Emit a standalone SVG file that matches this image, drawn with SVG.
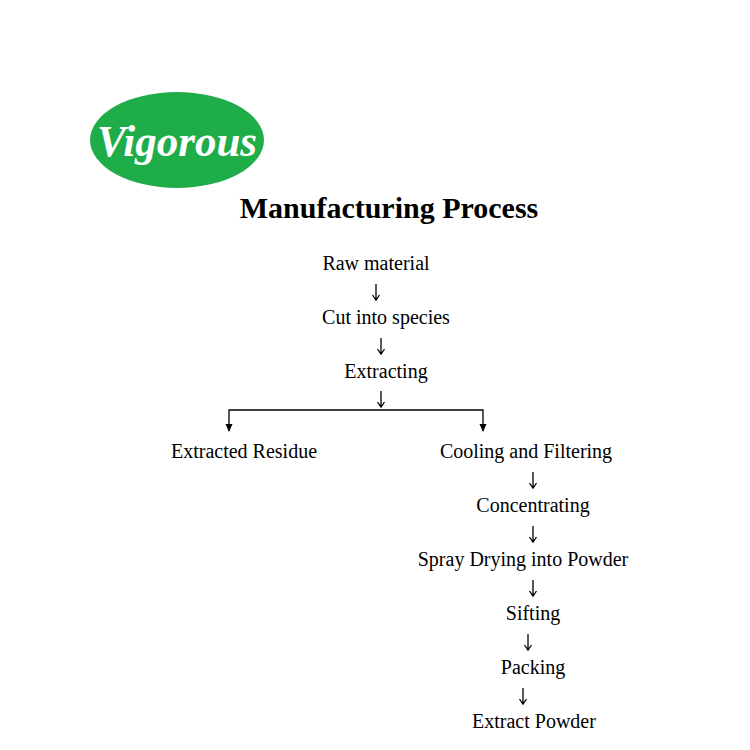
<svg xmlns="http://www.w3.org/2000/svg" width="750" height="750" viewBox="0 0 750 750">
<style>
.t{font-family:"Liberation Serif",serif;font-size:20px;fill:#000;text-anchor:middle}
.ar{fill:none;stroke:#000;stroke-width:1.3}
</style>
<rect width="750" height="750" fill="#fff"/>
<g id="logo"><ellipse cx="177" cy="140" rx="87" ry="48" fill="#1fad4a"/>
<text x="177" y="156" font-family="Liberation Serif,serif" font-style="italic" font-weight="bold" font-size="44" fill="#fff" text-anchor="middle" textLength="160" lengthAdjust="spacingAndGlyphs">Vigorous</text></g>
<g id="title"><text x="389" y="218" font-family="Liberation Serif,serif" font-weight="bold" font-size="30" text-anchor="middle">Manufacturing Process</text></g>
<g id="n1"><text class="t" x="376" y="270">Raw material</text></g>
<g id="n2"><text class="t" x="386" y="324">Cut into species</text></g>
<g id="n3"><text class="t" x="386" y="378">Extracting</text></g>
<g id="n4"><text class="t" x="244" y="458">Extracted Residue</text></g>
<g id="n5"><text class="t" x="526" y="458">Cooling and Filtering</text></g>
<g id="n6"><text class="t" x="533" y="512">Concentrating</text></g>
<g id="n7"><text class="t" x="523" y="566">Spray Drying into Powder</text></g>
<g id="n8"><text class="t" x="533" y="620">Sifting</text></g>
<g id="n9"><text class="t" x="533" y="674">Packing</text></g>
<g id="n10"><text class="t" x="534" y="728">Extract Powder</text></g>
<g id="connectors">
<path class="ar" d="M376,284 v16 M372.5,295 L376,300 L379.5,295"/>
<path class="ar" d="M381,338 v16 M377.5,349 L381,354 L384.5,349"/>
<path class="ar" d="M381,391 v16 M377.5,402 L381,407 L384.5,402"/>
<path class="ar" d="M533,472 v16 M529.5,483 L533,488 L536.5,483"/>
<path class="ar" d="M533,526 v16 M529.5,537 L533,542 L536.5,537"/>
<path class="ar" d="M533,580 v16 M529.5,591 L533,596 L536.5,591"/>
<path class="ar" d="M528,634 v16 M524.5,645 L528,650 L531.5,645"/>
<path class="ar" d="M523,688 v16 M519.5,699 L523,704 L526.5,699"/>
<path d="M229,431 V410 H483 V431" fill="none" stroke="#000" stroke-width="1.3"/>
<path d="M225.5,424 L232.5,424 L229,432 Z M479.5,424 L486.5,424 L483,432 Z" fill="#000"/>
</g>
</svg>
